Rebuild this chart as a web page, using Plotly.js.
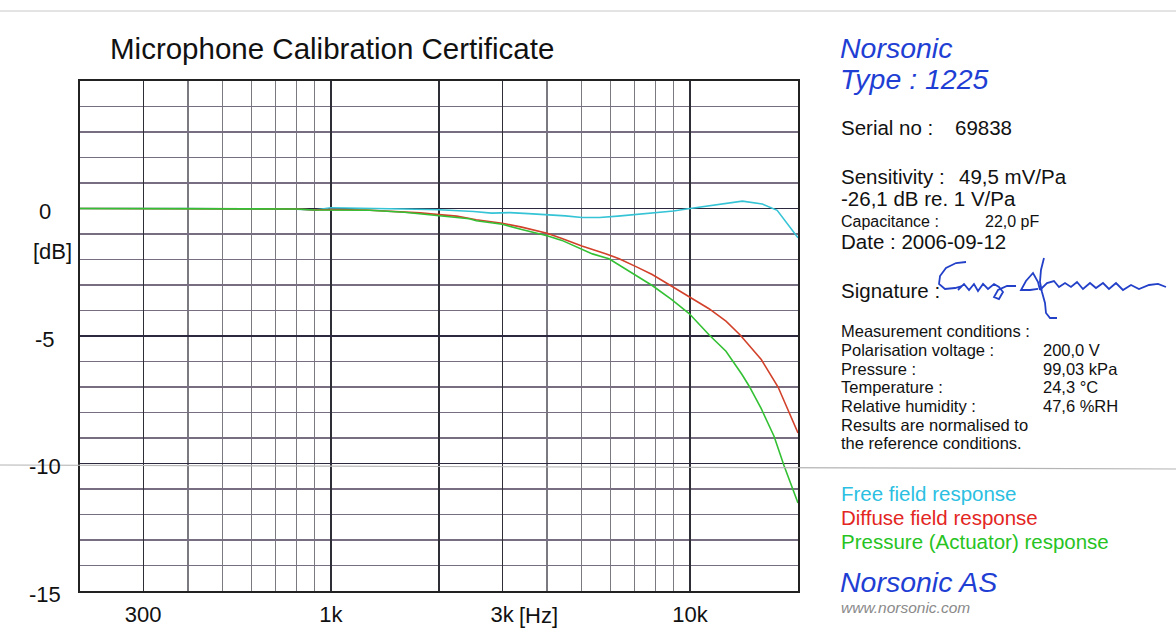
<!DOCTYPE html>
<html>
<head>
<meta charset="utf-8">
<script src="https://cdn.plot.ly/plotly-3.0.1.min.js"></script>
<style>
html,body{margin:0;padding:0;background:#fff;}
#chart{width:1176px;height:644px;}
</style>
</head>
<body>
<div id="chart"></div>
<script>
// ---- Data (read from the certificate) ----
const freqFree = [200, 400, 800, 900, 1000, 1250, 1600, 2000, 2240, 2500, 2800, 3150, 3550, 4000, 4500, 5000, 5600, 6300, 7100, 8000, 9000, 10000, 14000, 15900, 17500, 20000];
const dbFree   = [0, 0, -0.03, -0.06, 0.03, 0.02, -0.02, -0.05, -0.08, -0.12, -0.18, -0.16, -0.2, -0.24, -0.29, -0.35, -0.35, -0.3, -0.24, -0.18, -0.1, 0, 0.29, 0.18, -0.07, -1.15];

const freqDiffuse = [200, 400, 800, 900, 1000, 1250, 1600, 1770, 2000, 2240, 2540, 3000, 3400, 4000, 4400, 5000, 5850, 6350, 7100, 7850, 8900, 9950, 11300, 12600, 13800, 15800, 17600, 20000];
const dbDiffuse   = [0, 0, -0.02, -0.06, -0.04, -0.06, -0.12, -0.17, -0.24, -0.3, -0.44, -0.58, -0.73, -0.97, -1.18, -1.47, -1.78, -1.97, -2.29, -2.59, -3.05, -3.45, -3.93, -4.42, -4.96, -5.92, -7.0, -8.8];

const freqPressure = [200, 400, 800, 900, 1000, 1280, 1600, 1770, 2000, 2240, 2430, 2540, 3000, 3400, 4000, 4400, 5000, 5350, 5950, 6900, 7850, 8900, 9950, 11300, 12600, 13950, 14600, 15800, 17150, 18300, 20000];
const dbPressure   = [0, 0, -0.02, -0.06, -0.06, -0.07, -0.15, -0.21, -0.28, -0.33, -0.4, -0.48, -0.62, -0.82, -1.07, -1.25, -1.6, -1.78, -1.97, -2.52, -3.02, -3.57, -4.12, -4.95, -5.6, -6.5, -6.95, -7.85, -8.93, -10.1, -11.55];

const xMajorVals  = [300, 1000, 2000, 3000, 10000];
const xMajorText  = ["300", "1k", "", "3k", "10k"];
const xMinorVals  = [400, 500, 600, 700, 800, 900, 4000, 5000, 6000, 7000, 8000, 9000];
const yTickVals   = [0, -5, -10, -15];
const yTickText   = ["0", "-5", "-10", "-15"];
const seriesNames = ["Free field response", "Diffuse field response", "Pressure (Actuator) response"];
const seriesColors = ["#35c4d6", "#d2412a", "#34c034"];

// ---- layout helpers (pixel -> paper) ----
const L = 80, R = 798, T = 81, B = 591;
const W = 1176, H = 644;
function px(x) { return (x - L) / (R - L); }
function py(y) { return (B - y) / (B - T); }
const FONT = "Liberation Sans, Arial, Helvetica, sans-serif";

function txt(text, x, y, size, color, opts) {
  return Object.assign({
    text: text, xref: "paper", yref: "paper", x: px(x), y: py(y),
    xanchor: "left", yanchor: "middle", showarrow: false,
    font: {family: FONT, size: size, color: color || "#111"}
  }, opts || {});
}

const traces = [
  {x: freqFree, y: dbFree, name: seriesNames[0], mode: "lines", line: {color: seriesColors[0], width: 1.6}},
  {x: freqDiffuse, y: dbDiffuse, name: seriesNames[1], mode: "lines", line: {color: seriesColors[1], width: 1.6}},
  {x: freqPressure, y: dbPressure, name: seriesNames[2], mode: "lines", line: {color: seriesColors[2], width: 1.6}}
];

const annotations = [];
// y tick labels (centred like the certificate)
yTickVals.forEach((v, i) => {
  annotations.push({text: yTickText[i], xref: "paper", yref: "y", x: px(45), y: v, yshift: -3,
    xanchor: "center", yanchor: "middle", showarrow: false, font: {family: FONT, size: 22, color: "#111"}});
});
annotations.push(txt("[dB]", 52, 251, 22, "#111", {xanchor: "center"}));
annotations.push({text: "[Hz]", xref: "x", yref: "paper", x: Math.log10(3000), y: py(615),
  xanchor: "left", yanchor: "middle", xshift: 15, showarrow: false, font: {family: FONT, size: 22, color: "#111"}});

const blue = "#1f3fd4";
annotations.push(txt("<i>Norsonic</i>", 838, 47.5, 28.5, blue));
annotations.push(txt("<i>Type : 1225</i>", 838, 79, 28.5, blue));
annotations.push(txt("Serial no :", 839, 127.5, 20.5));
annotations.push(txt("69838", 953, 127.5, 20.5));
annotations.push(txt("Sensitivity :", 839, 176, 20.5));
annotations.push(txt("49,5 mV/Pa", 957, 176, 20.5));
annotations.push(txt("-26,1 dB re. 1 V/Pa", 839, 199, 20.5));
annotations.push(txt("Capacitance :", 839, 221, 16));
annotations.push(txt("22,0 pF", 983, 221, 16));
annotations.push(txt("Date : 2006-09-12", 839, 241.5, 20.5));
annotations.push(txt("Signature :", 839, 290.5, 20.5));

const condLabels = ["Measurement conditions :", "Polarisation voltage :", "Pressure :", "Temperature :", "Relative humidity :", "Results are normalised to", "the reference conditions."];
const condValues = ["", "200,0 V", "99,03 kPa", "24,3 °C", "47,6 %RH", "", ""];
condLabels.forEach((s, i) => {
  const yy = 331 + i * 18.75;
  annotations.push(txt(s, 839, yy, 16.5));
  if (condValues[i]) annotations.push(txt(condValues[i], 1041, yy, 16.5));
});

annotations.push(txt(seriesNames[0], 839, 493.5, 20.5, "#2cbfe2"));
annotations.push(txt(seriesNames[1], 839, 517.5, 20.5, "#e3261f"));
annotations.push(txt(seriesNames[2], 839, 541.5, 20.5, "#27c31f"));
annotations.push(txt("<i>Norsonic AS</i>", 838, 582, 28.5, blue));
annotations.push(txt("<i>www.norsonic.com</i>", 839, 607.5, 15.5, "#8a8a8a"));

// paper marks
const shapes = [
  {type: "line", xref: "paper", yref: "paper", x0: px(0), x1: px(W), y0: py(11), y1: py(11), line: {color: "#c8c8c8", width: 1}, layer: "below"},
  {type: "line", xref: "paper", yref: "paper", x0: px(0), x1: px(W), y0: py(465), y1: py(469), line: {color: "#b4b4b4", width: 1.2}, layer: "above"}
];
// handwritten signature, drawn as decoration in pixel space
function sig(points) {
  let d = "";
  points.forEach((p, i) => { d += (i === 0 ? "M" : "L") + px(p[0]).toFixed(4) + "," + py(p[1]).toFixed(4) + " "; });
  return d;
}
const sigStrokes = [
  [[966,262],[956,263],[946,268],[940,276],[939,284],[945,289],[955,288],[962,286]],
  [[958,290],[964,284],[969,290],[974,284],[978,291],[983,284],[988,289],[994,284],[999,287],[1003,292],[999,299],[994,297],[998,290],[1007,286],[1016,286]],
  [[1038,289],[1030,290],[1021,290],[1026,281],[1033,273],[1038,282],[1040,290]],
  [[1044,258],[1041,270],[1040,282],[1042,292],[1045,303],[1046,313],[1050,318],[1057,318]],
  [[1040,290],[1047,283],[1054,281],[1059,287],[1065,283],[1071,287],[1077,282],[1083,289],[1090,283],[1096,288],[1103,283],[1109,289],[1116,283],[1123,290],[1131,285],[1139,289],[1149,285],[1158,284],[1166,287]]
];
sigStrokes.forEach(s => shapes.push({type: "path", xref: "paper", yref: "paper", path: sig(s), line: {color: "#2340c8", width: 1.8}, layer: "above"}));

const layout = {
  width: W, height: H,
  margin: {l: L, r: W - R, t: T, b: H - B, pad: 0},
  paper_bgcolor: "#ffffff", plot_bgcolor: "#ffffff",
  showlegend: false,
  font: {family: FONT, color: "#111"},
  title: {text: "Microphone Calibration Certificate", xref: "container", yref: "container",
    x: 110 / W, xanchor: "left", y: 1 - 49 / H, yanchor: "middle",
    font: {family: FONT, size: 29.5, color: "#111"}},
  xaxis: {
    type: "log", range: [Math.log10(200), Math.log10(20000)],
    tickmode: "array", tickvals: xMajorVals, ticktext: xMajorText,
    showgrid: true, gridcolor: "#2e2e36", gridwidth: 1.4,
    minor: {tickmode: "array", tickvals: xMinorVals, showgrid: true, gridcolor: "#7a7a80", gridwidth: 1.2, ticks: ""},
    showline: true, mirror: true, linecolor: "#222", linewidth: 1.6,
    ticks: "", ticklabelstandoff: 3,
    tickfont: {family: FONT, size: 22, color: "#111"},
    zeroline: false, fixedrange: true
  },
  yaxis: {
    range: [-15, 5],
    tickmode: "array", tickvals: [-15, -10, -5, 0, 5], ticktext: ["", "", "", "", ""],
    showticklabels: false,
    showgrid: true, gridcolor: "#2b2840", gridwidth: 1.4,
    minor: {dtick: 1, showgrid: true, gridcolor: "#776e82", gridwidth: 1.2, ticks: ""},
    showline: true, mirror: true, linecolor: "#222", linewidth: 1.6,
    ticks: "", zeroline: false, fixedrange: true
  },
  annotations: annotations,
  shapes: shapes
};

Plotly.newPlot("chart", traces, layout, {displayModeBar: false, staticPlot: true});
</script>
</body>
</html>
